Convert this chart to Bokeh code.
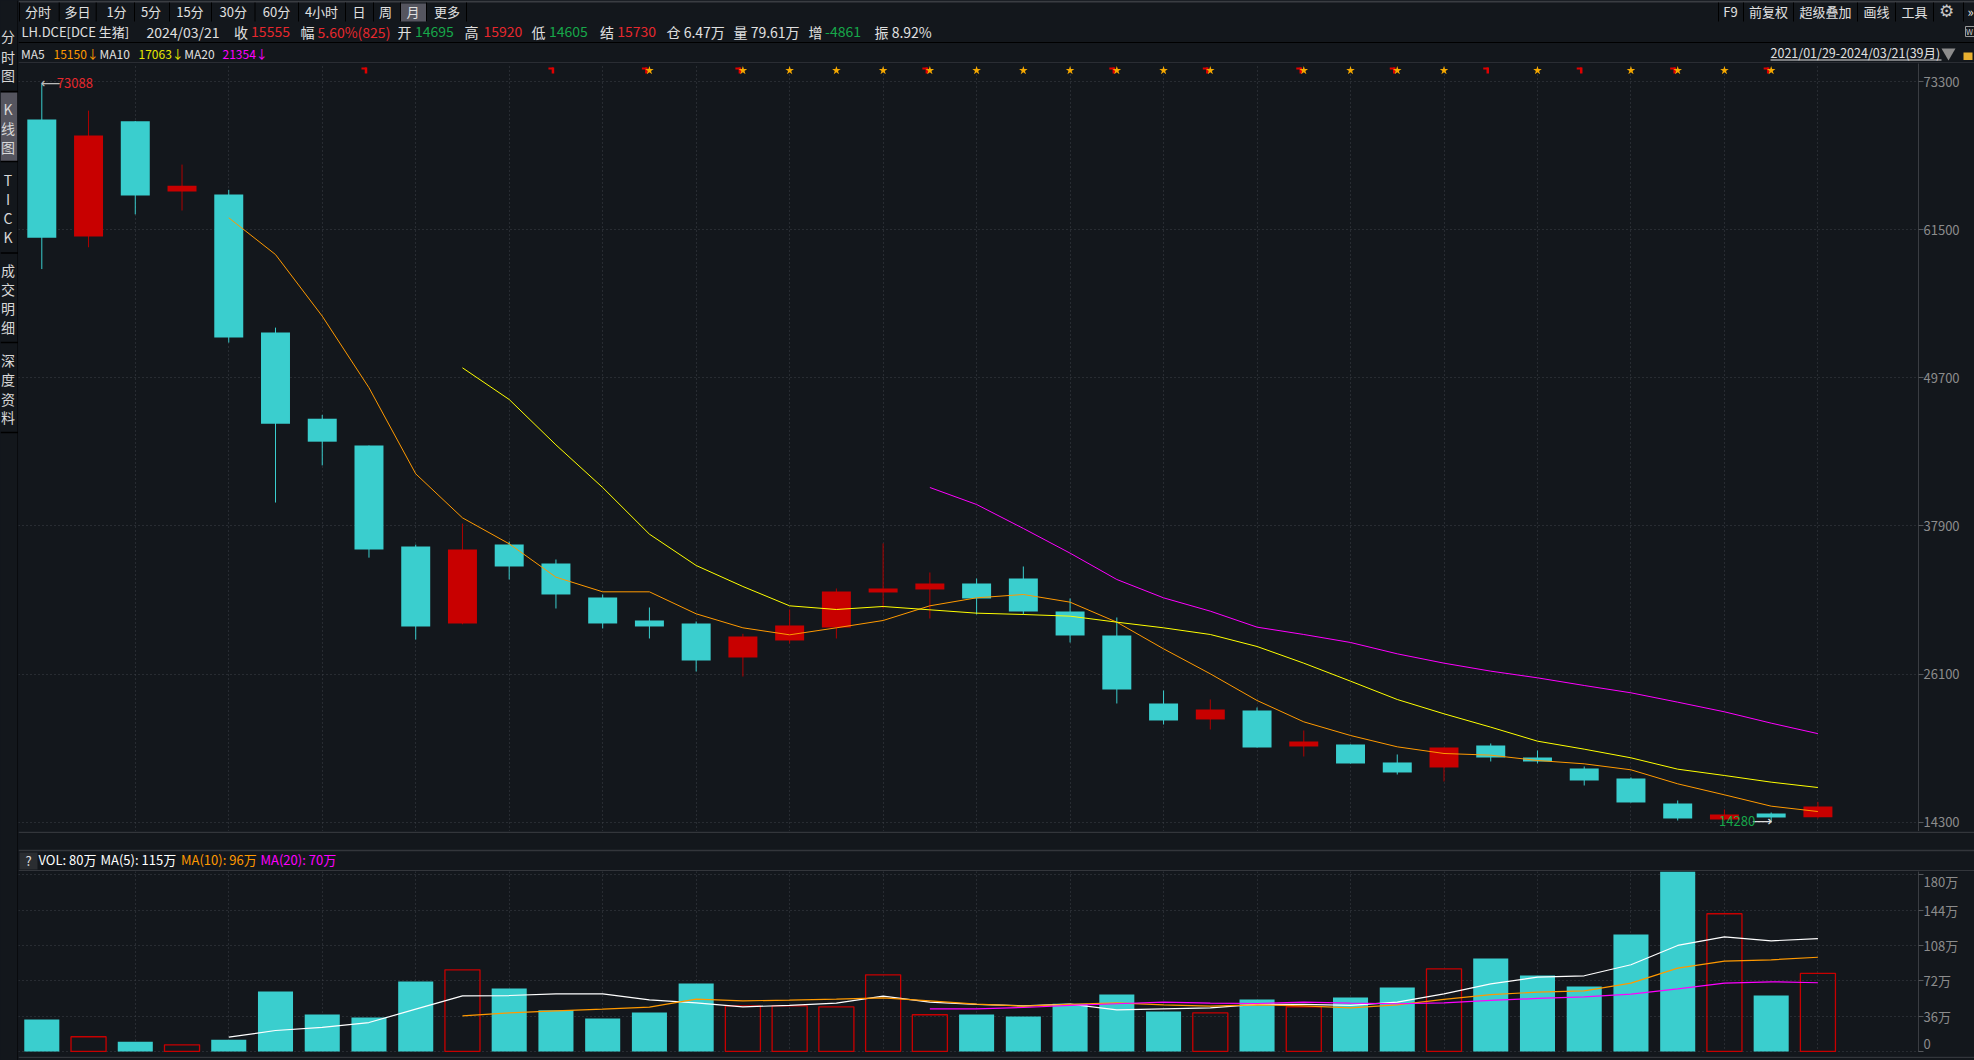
from bokeh.plotting import figure
from bokeh.layouts import column, row
from bokeh.models import Range1d, FixedTicker, Grid, LinearAxis
from bokeh.core.properties import value
from bokeh.embed import file_html
from bokeh.resources import INLINE

BG = "#13171c"
TEAL = "#3acece"
RED = "#c80000"
LINE = "#33363b"
GRID = "#3f4349"
FONT = "Noto Sans CJK SC"

opens = [70281,60952,70129,64550,64306,53300,46441,44307,36259,30130,36422,34908,32200,30368,30129,27420,28775,29810,32598,32837,33315,33714,31085,29173,23756,22482,23198,20331,20490,19057,18658,20410,19454,18578,17781,15790,14516,14994,14695]
closes = [60861,69000,64214,65007,52904,46045,44612,36015,29887,36015,34669,32439,30129,29890,27181,29093,29970,32678,32917,33315,32120,31085,29173,24871,22402,23278,20251,20729,18976,18260,20251,19454,19136,17622,15870,14595,14914,14675,15555]
highs = [73088,70982,70160,66684,64672,53697,46746,44307,36411,38088,36661,35227,32439,31403,30288,29306,31244,32917,36502,34191,33713,34669,32120,30607,24792,24075,23437,21605,20490,19694,20251,20570,20012,18737,17861,16029,15312,15073,15920]
lows = [58361,60099,62720,63025,52507,39764,42722,35374,28851,30070,33634,31324,29731,28934,26305,25907,28536,28934,31324,30527,30846,30846,28615,23756,22083,21685,20251,19534,18976,18100,17543,19136,18976,17224,15870,14436,14436,14280,14605]

ma5_start = 4
ma5 = [62446,59519,54611,48910,42051,38545,36475,33820,32651,32651,30899,29784,29226,29784,30368,31536,32174,32439,31828,30235,28111,26119,23995,22295,21207,20304,19773,19640,19215,18950,18472,17357,16480,15577,15150]
ma10_start = 9
ma10 = [50496,47972,44356,40960,37245,34749,33076,31536,31244,31483,31218,30952,30846,30713,30235,29784,29253,28297,26969,25535,24075,22933,21871,20755,20118,19428,18525,18020,17490,17063]
ma20_start = 19
ma20 = [40962,39608,37700,35732,33634,32173,31111,29837,29253,28615,27713,26969,26332,25801,25190,24606,23862,23092,22190,21354]

volumes = [32.6,15,10,6.8,12,61,37.7,34.6,71.3,83.2,64.2,42,33.6,39.7,69.3,46.5,46.5,45.5,78.1,37.4,37.7,35.7,48.6,58,40.8,39.4,53,45.5,55,65.2,84.2,94.7,77.4,66.2,119.2,190,140.3,57,79.6]
vol_ma5 = [14.6,21.4,24.5,29.5,43.1,56.7,57,58.7,58.7,52.6,49.6,45.5,46.9,49.2,56.4,50.3,47.9,46.5,48.2,42.4,43.5,44.5,47.9,47.9,46.9,50.3,58.7,68.9,75.7,77.1,88.3,108,116.8,112.7,115]
vol_ma10 = [36.3,39.4,41.4,43.1,45.2,53.3,51.6,52.3,53.3,54.7,51.6,48.2,46.2,47.9,49.6,47.5,46.2,47.5,46.5,44.5,47.5,53,58,60.4,61.8,69.6,84.9,92,93.4,96]
vol_ma20 = [43.5,43.5,44.8,46.9,48.6,50.3,49.2,48.9,50.3,49.2,48.6,49.6,52,54,55.7,58.4,63.8,69.6,71,70]

price_ticks = [14300,26100,37900,49700,61500,73300]
vol_ticks = [0,36,72,108,144,180]
vol_tick_labels = ["0","36万","72万","108万","144万","180万"]
star_idx = [13,15,16,17,18,19,20,21,22,23,24,25,27,28,29,30,32,34,35,36,37]
flag_idx = [7,11,13,15,19,23,25,27,29,31,33,35,37]

toolbar_labels = ["分时","多日","1分","5分","15分","30分","60分","4小时","日","周","月","更多"]
toolbar_x = [37.6,77,116,150.5,189.4,232.8,276,321,358.4,385,412.6,446.4]
toolbar_seps = [19,58.7,95.7,134,169,211,254.5,298,345,373,400,426,466]
tools_labels = ["F9","前复权","超级叠加","画线","工具","»"]
tools_x = [1730,1768,1825,1876,1914,1970]
tool_seps = [1718,1743,1793,1857,1895,1933,1963]

WHITE = "#e0e0e0"; R = "#e6282e"; G = "#17a84a"
info_row = [(146,"2024/03/21",WHITE),(233.4,"收",WHITE),(250.6,"15555",R),
            (300,"幅",WHITE),(317,"5.60%(825)",R),(397,"开",WHITE),(414.5,"14695",G),(464,"高",WHITE),(483,"15920",R),
            (531,"低",WHITE),(548.5,"14605",G),(599.5,"结",WHITE),(616.7,"15730",R),(666,"仓 6.47万",WHITE),
            (733,"量 79.61万",WHITE),(808,"增",WHITE),(824.6,"-4861",G),(874,"振 8.92%",WHITE)]
ma_row = [(20.4,"MA5",WHITE),(53,"15150↓","#ff9900"),(99,"MA10",WHITE),(138,"17063↓","#e6e600"),
          (183.7,"MA20",WHITE),(222,"21354↓","#ff00ff")]
vol_row = [(38,"VOL: 80万","#ffffff"),(100,"MA(5): 115万","#ffffff"),(180.5,"MA(10): 96万","#ff9900"),(260,"MA(20): 70万","#ff00ff")]
side_chars = [("分",35.5),("时",56.5),("图",74.5),("K",108.5),("线",127.5),("图",146.5),("T",179.5),("I",198.5),("C",217.5),("K",236.5),
              ("成",269),("交",288.5),("明",307.5),("细",326.5),("深",359.5),("度",378.5),("资",398),("料",416.5)]
side_seps = [91,161,252.5,342,432]


def panel(w, h, xr, yr, **kw):
    p = figure(width=w, height=h, x_range=xr, y_range=yr, toolbar_location=None, output_backend="svg",
               background_fill_color=BG, border_fill_color=BG, outline_line_color=None,
               x_axis_location=None, y_axis_location=None, frame_align=False,
               min_border_left=0, min_border_top=0, min_border_bottom=0, min_border_right=kw.get("right", 0),
               styles={"background-color": BG})
    p.grid.visible = False
    return p


def put(p, x, y, text, color=WHITE, size="13px", align="left", font=FONT):
    p.text(x=[x], y=[y], text=[text], text_color=color, text_font=value(font), text_font_size=size,
           text_align=align, text_baseline="middle")


def add_grids(p, yticks):
    even = [i for i in range(2, 39, 2)]
    p.add_layout(Grid(dimension=0, ticker=FixedTicker(ticks=even), grid_line_color=GRID, grid_line_dash=[1, 3], grid_line_width=1))
    p.add_layout(Grid(dimension=1, ticker=FixedTicker(ticks=yticks), grid_line_color=GRID, grid_line_dash=[1, 3], grid_line_width=1))


def right_axis(p, ticks, overrides=None):
    ax = LinearAxis(ticker=FixedTicker(ticks=ticks))
    ax.axis_line_color = "#3a3d42"
    ax.major_tick_line_color = "#55585c"
    ax.major_tick_out = 5
    ax.major_tick_in = 0
    ax.minor_tick_line_color = None
    ax.major_label_text_color = "#8c8c8c"
    ax.major_label_text_font = FONT
    ax.major_label_text_font_size = "13px"
    ax.major_label_standoff = 0
    if overrides:
        ax.major_label_overrides = overrides
    p.add_layout(ax, "right")


X_L = (18 - 41.3) / 46.74
X_R = (1918 - 41.3) / 46.74

# ---- sidebar
side = panel(18, 1060, Range1d(0, 18), Range1d(1060, 0))
side.quad(left=[0], right=[17], top=[92], bottom=[160.5], fill_color="#55555f", line_color=None)
side.segment(x0=[0]*len(side_seps), x1=[18]*len(side_seps), y0=side_seps, y1=side_seps, line_color="#000000", line_width=1.5)
side.segment(x0=[17.5], x1=[17.5], y0=[0], y1=[1060], line_color="#000000", line_width=1)
for ch, y in side_chars:
    put(side, 7.5, y, ch, "#d8d8d8", "14px", "center")

# ---- header
hdr = panel(1956, 63, Range1d(18, 1974), Range1d(63, 0))
hdr.segment(x0=[18], x1=[1974], y0=[1], y1=[1], line_color="#3a3d42", line_width=2)
hdr.segment(x0=[18], x1=[1974], y0=[62.5], y1=[62.5], line_color=LINE, line_width=1.5)
hdr.segment(x0=[18], x1=[1974], y0=[42], y1=[42], line_color="#000000", line_width=1)
hdr.quad(left=[400], right=[426], top=[3], bottom=[21], fill_color="#55555f", line_color=None)
hdr.segment(x0=toolbar_seps + tool_seps, x1=toolbar_seps + tool_seps, y0=[2]*(len(toolbar_seps)+len(tool_seps)),
            y1=[21]*(len(toolbar_seps)+len(tool_seps)), line_color="#000000", line_width=1)
for t, x in zip(toolbar_labels, toolbar_x):
    put(hdr, x, 10.5, t, WHITE, "13px", "center")
for t, x in zip(tools_labels, tools_x):
    put(hdr, x, 10.5, t, WHITE, "13px", "center")
put(hdr, 1946, 10, "⚙", "#c8c8c8", "17px", "center", "DejaVu Sans")
put(hdr, 21, 31, "LH.DCE[DCE 生猪]", WHITE, "13px")
for x, t, c in info_row:
    put(hdr, x, 31, t, c, "14px")
for x, t, c in ma_row:
    put(hdr, x, 52.5, t, c, "12px")
put(hdr, 1770, 52, "2021/01/29-2024/03/21(39月)", "#e0e0e0", "12.5px")
hdr.segment(x0=[1770], x1=[1941], y0=[59.5], y1=[59.5], line_color="#e0e0e0", line_width=1)
hdr.scatter(x=[1948], y=[52], marker="inverted_triangle", size=14, fill_color="#8c8c8c", line_color=None)
hdr.quad(left=[1963], right=[1972], top=[52], bottom=[59.5], fill_color="#e8b030", line_color=None)
hdr.quad(left=[1965], right=[1974], top=[26], bottom=[36], fill_color=None, line_color="#9a9a9a", line_width=1)
put(hdr, 1969, 31, "W", "#c8c8c8", "8px", "center")

# ---- main candles
main = panel(1956, 768, Range1d(X_L, X_R), Range1d(13559, 74737), right=56)
add_grids(main, price_ticks)
right_axis(main, price_ticks)
idx = list(range(len(opens)))
colors = [RED if c > o else TEAL for o, c in zip(opens, closes)]
wick_colors = ["#b00000" if c > o else TEAL for o, c in zip(opens, closes)]
main.segment(x0=idx, x1=idx, y0=lows, y1=highs, line_color=wick_colors, line_width=1)
main.vbar(x=idx, width=0.62, top=[max(o, c) for o, c in zip(opens, closes)],
          bottom=[min(o, c) for o, c in zip(opens, closes)], fill_color=colors, line_color=None)
main.line(list(range(ma5_start, 39)), ma5, line_color="#ff9900", line_width=1)
main.line(list(range(ma10_start, 39)), ma10, line_color="#ffff00", line_width=1)
main.line(list(range(ma20_start, 39)), ma20, line_color="#ff00ff", line_width=1)
# top-of-panel markers
MARK_Y = 74180
main.rect(x=[i - 0.107 for i in flag_idx], y=[MARK_Y + 160]*len(flag_idx), width=5, height=2,
          width_units="screen", height_units="screen", fill_color="#e00000", line_color=None)
main.rect(x=[i - 0.064 for i in flag_idx], y=[MARK_Y]*len(flag_idx), width=2.5, height=6,
          width_units="screen", height_units="screen", fill_color="#e00000", line_color=None)
main.scatter(x=star_idx, y=[MARK_Y]*len(star_idx), marker="star", size=9, fill_color="#f5a800", line_color=None)
# extreme labels
hi_i = highs.index(max(highs))
lo_i = lows.index(min(lows))
main.text(x=[hi_i], y=[max(highs)], text=["⟵"], text_color="#bbbbbb", text_font=value("DejaVu Sans"),
          text_font_size="14px", text_baseline="middle", text_align="left", x_offset=-1, y_offset=-1)
main.text(x=[hi_i], y=[max(highs)], text=[str(max(highs))], text_color=R, text_font=value(FONT),
          text_font_size="13px", text_baseline="middle", text_align="left", x_offset=15, y_offset=-1)
main.text(x=[lo_i], y=[min(lows)], text=["⟶"], text_color="#dddddd", text_font=value("DejaVu Sans"),
          text_font_size="14px", text_baseline="middle", text_align="right", x_offset=1, y_offset=-1)
main.text(x=[lo_i], y=[min(lows)], text=[str(min(lows))], text_color=G, text_font=value(FONT),
          text_font_size="13px", text_baseline="middle", text_align="right", x_offset=-16, y_offset=-1)

# ---- middle strip
mid = panel(1956, 40, Range1d(18, 1974), Range1d(871, 831))
mid.segment(x0=[18]*3, x1=[1974]*3, y0=[831.8, 850, 870.2], y1=[831.8, 850, 870.2], line_color=LINE, line_width=1.5)
mid.quad(left=[19], right=[37], top=[852], bottom=[869], fill_color="#2a2d31", line_color=None)
put(mid, 28, 860, "?", "#e0e0e0", "13px", "center")
for x, t, c in vol_row:
    put(mid, x, 859, t, c)

# ---- volume
vol = panel(1956, 181, Range1d(X_L, X_R), Range1d(-1.02, 183.3), right=56)
add_grids(vol, vol_ticks)
right_axis(vol, vol_ticks, dict(zip(vol_ticks, vol_tick_labels)))
ups = [i for i in idx if closes[i] > opens[i]]
downs = [i for i in idx if closes[i] <= opens[i]]
vol.vbar(x=downs, width=0.75, top=[volumes[i] for i in downs], bottom=0, fill_color=TEAL, line_color=None)
vol.vbar(x=ups, width=0.75, top=[volumes[i] for i in ups], bottom=0, fill_color=None, line_color=RED, line_width=1.3)
vol.line(list(range(4, 39)), vol_ma5, line_color="#ffffff", line_width=1.2)
vol.line(list(range(9, 39)), vol_ma10, line_color="#ff9900", line_width=1.2)
vol.line(list(range(19, 39)), vol_ma20, line_color="#ff00ff", line_width=1.2)

# ---- clipped MACD caption
foot = panel(1956, 8, Range1d(18, 1974), Range1d(1060, 1052))
foot.segment(x0=[18], x1=[1974], y0=[1052.7], y1=[1052.7], line_color=LINE, line_width=1.5)
foot.text(x=[38], y=[1063], text=["MACD(12,26,9): DIF: -6145.6739 DEA: -6573.1413 MACD: 853.9065"], text_color=WHITE,
          text_font=value(FONT), text_font_size="13px", text_baseline="middle")

right_col = column(hdr, main, mid, vol, foot, spacing=0, styles={"background-color": BG})
layout = row(side, right_col, spacing=0, styles={"background-color": BG})
open("out.html", "w").write(file_html(layout, INLINE))
